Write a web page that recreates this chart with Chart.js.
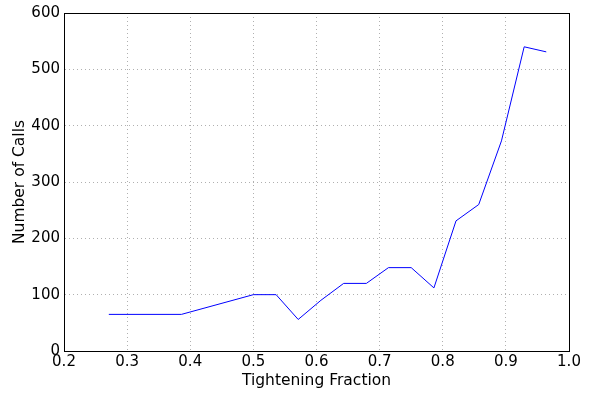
<!DOCTYPE html>
<html>
<head>
<meta charset="utf-8">
<script src="https://cdn.jsdelivr.net/npm/chart.js@4/dist/chart.umd.min.js"></script>
<style>
  html, body { margin: 0; padding: 0; background: #fff; }
  #wrap { width: 589px; height: 394px; }
</style>
</head>
<body>
<div id="wrap"><canvas id="callsChart" width="589" height="394"></canvas></div>
<script>
const fractions = [0.271, 0.386, 0.5, 0.536, 0.571, 0.607, 0.643, 0.679, 0.714, 0.75, 0.786, 0.821, 0.857, 0.893, 0.929, 0.964];
const calls = [65, 65, 100, 100, 56, 90, 120, 120, 148, 148, 112, 231, 260, 373, 540, 531];
const xTicks = [0.2, 0.3, 0.4, 0.5, 0.6, 0.7, 0.8, 0.9, 1.0];
const yTicks = [0, 100, 200, 300, 400, 500, 600];

const points = fractions.map((x, i) => ({ x: x, y: calls[i] }));

// draw the full box round the plot like matplotlib does
const frameBox = {
  id: "frameBox",
  afterDraw(chart) {
    const { ctx, chartArea: a } = chart;
    ctx.save();
    ctx.strokeStyle = "#000";
    ctx.lineWidth = 1;
    ctx.strokeRect(Math.round(a.left) + 0.5, Math.round(a.top) + 0.5,
      Math.round(a.right - a.left), Math.round(a.bottom - a.top));
    ctx.restore();
  }
};

const font = { family: "DejaVu Sans", size: 15 };
const titleFont = { family: "DejaVu Sans", size: 15.5 };

new Chart(document.getElementById("callsChart").getContext("2d"), {
  type: "scatter",
  data: {
    datasets: [{
      data: points,
      showLine: true,
      borderColor: "#0000ff",
      borderWidth: 1,
      pointRadius: 0,
      tension: 0
    }]
  },
  options: {
    responsive: false,
    animation: false,
    layout: { padding: { top: 13, right: 20, left: 0, bottom: 0 } },
    plugins: { legend: { display: false }, tooltip: { enabled: false } },
    scales: {
      x: {
        type: "linear",
        min: 0.2,
        max: 1.0,
        afterBuildTicks: (axis) => { axis.ticks = xTicks.map(v => ({ value: v })); },
        afterFit: (axis) => { axis.height = 43; },
        ticks: {
          color: "#000",
          font: font,
          padding: 2,
          maxRotation: 0,
          callback: (v) => v.toFixed(1)
        },
        grid: { color: "#b0b0b0", drawTicks: false, lineWidth: 1 },
        border: { display: true, color: "#000", dash: [1, 3] },
        title: { display: true, text: "Tightening Fraction", color: "#000", font: titleFont, padding: { top: 2, bottom: 4 } }
      },
      y: {
        min: 0,
        max: 600,
        afterBuildTicks: (axis) => { axis.ticks = yTicks.map(v => ({ value: v })); },
        afterFit: (axis) => { axis.width = 64; },
        ticks: { color: "#000", font: font, padding: 4 },
        grid: { color: "#b0b0b0", drawTicks: false, lineWidth: 1 },
        border: { display: true, color: "#000", dash: [1, 3] },
        title: { display: true, text: "Number of Calls", color: "#000", font: titleFont, padding: { top: 11, bottom: 0 } }
      }
    }
  },
  plugins: [frameBox]
});
</script>
</body>
</html>
